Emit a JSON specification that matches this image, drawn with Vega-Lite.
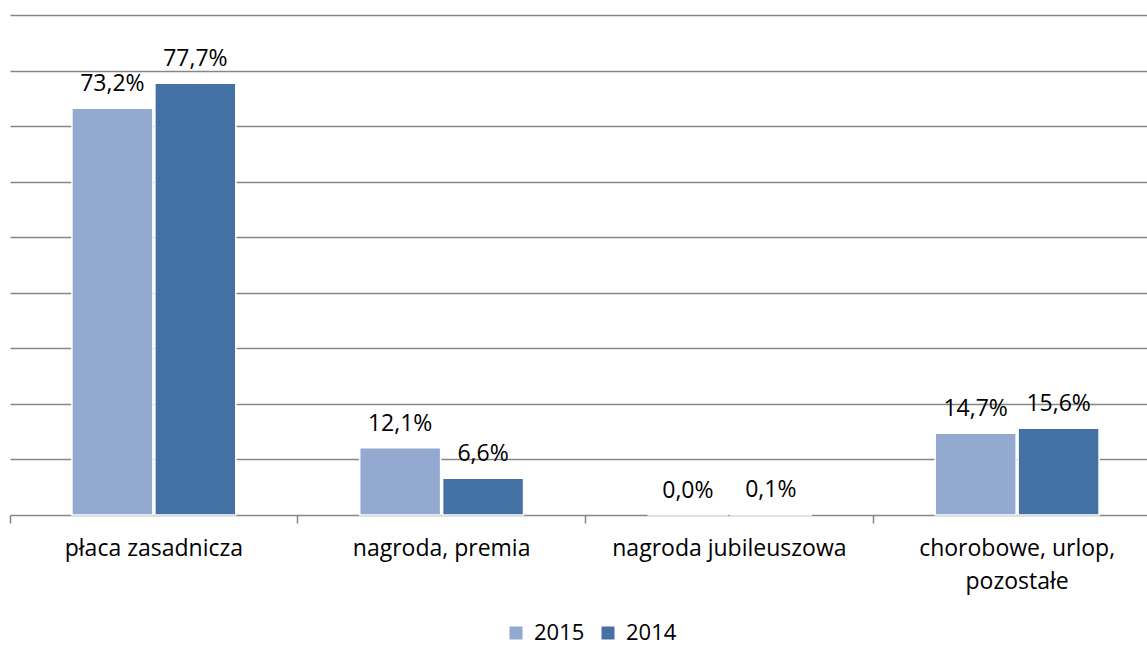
{
  "$schema": "https://vega.github.io/schema/vega-lite/v6.json",
  "autosize": "none",
  "width": 1151,
  "height": 500,
  "padding": {"left": 10, "top": 15, "right": 0, "bottom": 132},
  "background": "white",
  "config": {
    "locale": {"number": {"decimal": ",", "thousands": " ", "grouping": [3], "currency": ["", " zł"]}},
    "view": {"stroke": null},
    "font": "Open Sans"
  },
  "data": {
    "values": [
      {"kat": "płaca zasadnicza", "rok": "2015", "v": 0.732},
      {"kat": "płaca zasadnicza", "rok": "2014", "v": 0.777},
      {"kat": "nagroda, premia", "rok": "2015", "v": 0.121},
      {"kat": "nagroda, premia", "rok": "2014", "v": 0.066},
      {"kat": "nagroda jubileuszowa", "rok": "2015", "v": 0.0},
      {"kat": "nagroda jubileuszowa", "rok": "2014", "v": 0.001},
      {"kat": "chorobowe, urlop, pozostałe", "rok": "2015", "v": 0.147},
      {"kat": "chorobowe, urlop, pozostałe", "rok": "2014", "v": 0.156}
    ]
  },
  "encoding": {
    "x": {
      "field": "kat", "type": "nominal", "sort": null, "title": null,
      "scale": {"paddingInner": 0, "paddingOuter": 0},
      "axis": {
        "labelAngle": 0, "labelFontSize": 23, "labelColor": "#000000", "labelFont": "Open Sans",
        "labelPadding": 14, "labelLineHeight": 33, "labelBaseline": "top", "labelLimit": 400,
        "labelExpr": "datum.value == 'chorobowe, urlop, pozostałe' ? ['chorobowe, urlop,', 'pozostałe'] : datum.value",
        "domainColor": "#868686", "domainWidth": 1.5, "tickColor": "#868686", "tickWidth": 1.5,
        "tickSize": 8, "bandPosition": 0, "grid": false
      }
    },
    "xOffset": {"field": "rok", "type": "nominal", "sort": ["2015", "2014"], "scale": {"paddingInner": 0.024, "paddingOuter": 0.747}},
    "y": {
      "field": "v", "type": "quantitative", "title": null,
      "scale": {"domain": [0, 0.9], "nice": false},
      "axis": {
        "values": [0.1, 0.2, 0.3, 0.4, 0.5, 0.6, 0.7, 0.8, 0.9],
        "labels": false, "ticks": false, "domain": false,
        "gridColor": "#868686", "gridWidth": 1.5
      }
    }
  },
  "layer": [
    {
      "mark": {"type": "bar", "stroke": "#ffffff", "strokeWidth": 1.5},
      "encoding": {
        "color": {
          "field": "rok", "type": "nominal", "title": null,
          "scale": {"domain": ["2015", "2014"], "range": ["#93A9D0", "#4471A5"]},
          "legend": {
            "orient": "none", "direction": "horizontal", "legendX": 495, "legendY": 607,
            "symbolType": "square", "symbolSize": 169, "symbolStrokeWidth": 0,
            "labelFontSize": 22, "labelColor": "#000000", "labelFont": "Open Sans",
            "columnPadding": 12, "labelOffset": 7
          }
        }
      }
    },
    {
      "mark": {"type": "text", "baseline": "alphabetic", "dy": -17, "fontSize": 23, "color": "#000000"},
      "encoding": {
        "text": {"field": "v", "type": "quantitative", "format": ".1%"}
      }
    }
  ]
}
